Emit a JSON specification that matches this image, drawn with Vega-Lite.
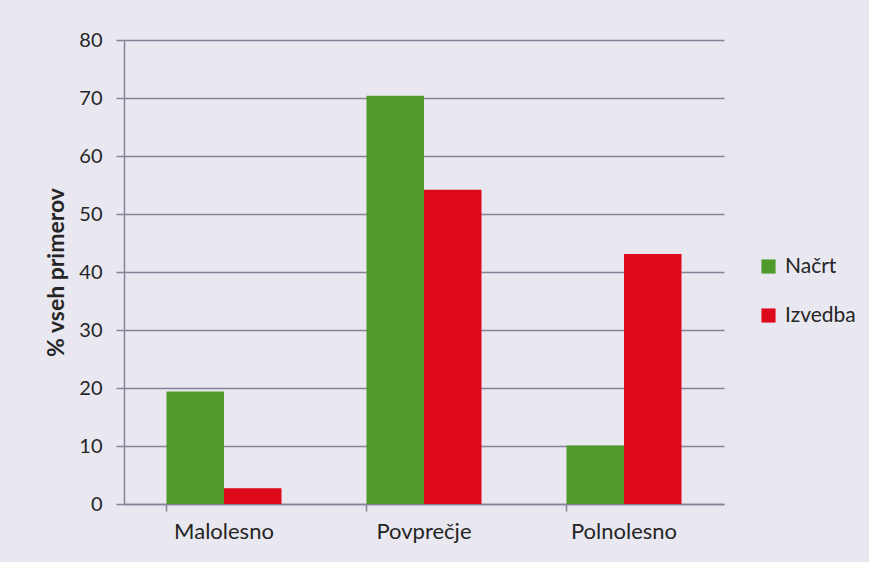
{
  "$schema": "https://vega.github.io/schema/vega-lite/v6.json",
  "width": 600,
  "height": 464,
  "autosize": {"type": "none"},
  "padding": {"left": 124, "top": 40, "right": 145, "bottom": 58},
  "background": "#e9e8f1",
  "config": {
    "font": "Lato",
    "view": {"stroke": null},
    "axis": {"labelFont": "Lato", "titleFont": "Lato"}
  },
  "data": {
    "values": [
      {"kategorija": "Malolesno", "serija": "Načrt", "vrednost": 19.4},
      {"kategorija": "Malolesno", "serija": "Izvedba", "vrednost": 2.7},
      {"kategorija": "Povprečje", "serija": "Načrt", "vrednost": 70.4},
      {"kategorija": "Povprečje", "serija": "Izvedba", "vrednost": 54.2},
      {"kategorija": "Polnolesno", "serija": "Načrt", "vrednost": 10.1},
      {"kategorija": "Polnolesno", "serija": "Izvedba", "vrednost": 43.1}
    ]
  },
  "mark": {"type": "bar"},
  "encoding": {
    "x": {
      "field": "kategorija",
      "type": "nominal",
      "sort": ["Malolesno", "Povprečje", "Polnolesno"],
      "scale": {"paddingInner": 0.425, "paddingOuter": 0.2125},
      "axis": {
        "title": null,
        "labelAngle": 0,
        "labelFontSize": 22,
        "labelColor": "#252525",
        "labelPadding": 10,
        "bandPosition": 0,
        "tickSize": 7,
        "tickColor": "#8a8098",
        "domainColor": "#8a8098",
        "domainWidth": 1.5,
        "tickWidth": 1.5
      }
    },
    "xOffset": {
      "field": "serija",
      "type": "nominal",
      "sort": ["Načrt", "Izvedba"],
      "scale": {"paddingInner": 0, "paddingOuter": 0}
    },
    "y": {
      "field": "vrednost",
      "type": "quantitative",
      "scale": {"domain": [0, 80], "nice": false},
      "axis": {
        "title": "% vseh primerov",
        "titleFontSize": 23,
        "titleFontWeight": "bold",
        "titleColor": "#252525",
        "titlePadding": 10,
        "values": [0, 10, 20, 30, 40, 50, 60, 70, 80],
        "labelFontSize": 20,
        "labelColor": "#252525",
        "labelPadding": 14,
        "tickSize": 8,
        "tickColor": "#8a8098",
        "tickWidth": 1.5,
        "gridColor": "#8a8098",
        "gridWidth": 1.5,
        "domainColor": "#8a8098",
        "domainWidth": 1.5
      }
    },
    "color": {
      "field": "serija",
      "type": "nominal",
      "sort": ["Načrt", "Izvedba"],
      "scale": {"domain": ["Načrt", "Izvedba"], "range": ["#4f9a2b", "#de0a1b"]},
      "legend": {
        "title": null,
        "orient": "none",
        "legendX": 634,
        "legendY": 216,
        "symbolType": "square",
        "symbolSize": 200,
        "symbolStrokeWidth": 0,
        "labelFontSize": 21,
        "labelColor": "#252525",
        "labelOffset": 6,
        "rowPadding": 27
      }
    }
  }
}
